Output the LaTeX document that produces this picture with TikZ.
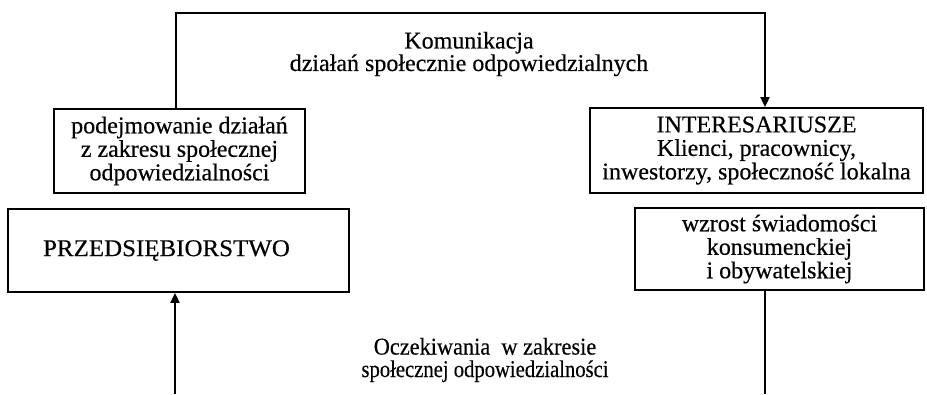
\documentclass[tikz,border=0pt]{standalone}
\usepackage{fontspec}
\setmainfont{Liberation Serif}[FakeBold=0.4]
\usetikzlibrary{arrows.meta}
\tikzset{
  box/.style={draw, line width=1.8pt, align=center, inner sep=0pt,
    font=\fontsize{24}{23.5}\selectfont},
  lbl/.style={align=center, inner sep=0pt, font=\fontsize{24}{22.5}\selectfont},
  conn/.style={line width=1.8pt},
  arr/.style={conn, -{Triangle[length=10pt,width=9pt]}}
}
\begin{document}
\begin{tikzpicture}[x=1pt,y=-1pt]
\useasboundingbox (0,0) rectangle (927,394);
\node[box, minimum width=251pt, minimum height=84pt] (b1) at (179.5,151)
  {podejmowanie działań\\z zakresu społecznej\\odpowiedzialności};
\node[box, minimum width=333pt, minimum height=85pt] (b2) at (756.5,150.5)
  {INTERESARIUSZE\\Klienci, pracownicy,\\inwestorzy, społeczność lokalna};
\node[box, minimum width=341pt, minimum height=83pt] (b3) at (178.5,250.5)
  {\scalebox{1.04}[1]{PRZEDSIĘBIORSTWO}\hspace*{24pt}};
\node[box, minimum width=289pt, minimum height=82pt] (b4) at (779.5,249)
  {wzrost świadomości\\konsumenckiej\\i obywatelskiej};
\node[lbl] (k) at (469,54) {Komunikacja\\działań społecznie odpowiedzialnych};
\node[lbl] (o) at (485,360)
  {\scalebox{0.93}[1]{Oczekiwania \ w zakresie}\\\scalebox{0.86}[1]{społecznej odpowiedzialności}};
\coordinate (tl) at (176,13);
\coordinate (tr) at (765,13);
\coordinate (bl) at (175,394);
\coordinate (br) at (765,394);
\draw[arr] (b1.north -| tl) -- (tl) -- (tr) -- (b2.north -| tr);
\draw[arr] (bl) -- (b3.south -| bl);
\draw[conn] (b4.south -| br) -- (br);
\end{tikzpicture}
\end{document}
